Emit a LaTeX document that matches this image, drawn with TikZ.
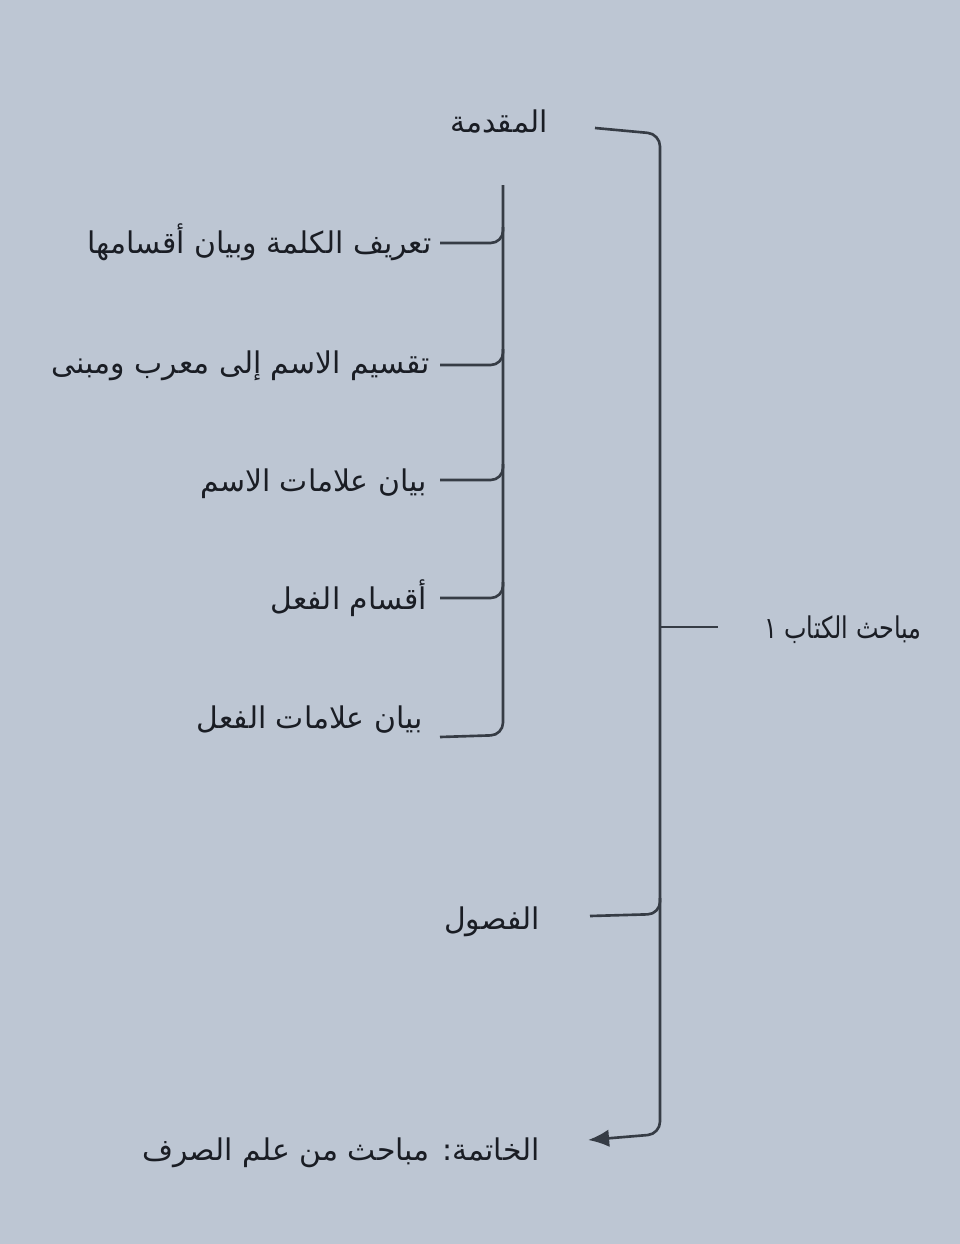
\documentclass[tikz,border=0pt]{standalone}
\usepackage{graphicx}
\usepackage{fontspec}
\usetikzlibrary{arrows.meta}
\TeXXeTstate=1
\newfontfamily\arabicfont[Script=Arabic]{DejaVu Sans}
\definecolor{paper}{HTML}{BDC6D3}
\definecolor{ink}{HTML}{1A1D24}
\definecolor{linec}{HTML}{363C45}
\begin{document}
\begin{tikzpicture}[x=0.02cm,y=-0.02cm,
  lbl/.style={font=\arabicfont\fontsize{17}{21}\selectfont, text=ink, inner sep=0pt},
  brk/.style={draw=linec, line width=1.5pt, rounded corners=7},
  arr/.style={brk, -{Latex[length=12pt,width=10pt]}}]
\fill[paper] (0,0) rectangle (960,1244);
\useasboundingbox (0,0) rectangle (960,1244);
% labels
\node[lbl, anchor=east] (muq) at (548,122) {\beginR المقدمة\endR};
\node[lbl, anchor=east] (t1) at (432,242) {\beginR تعريف الكلمة وبيان أقسامها\endR};
\node[lbl, anchor=east] (t2) at (430,366) {\beginR تقسيم الاسم إلى معرب ومبنى\endR};
\node[lbl, anchor=east] (t3) at (427,484) {\beginR بيان علامات الاسم\endR};
\node[lbl, anchor=east] (t4) at (427,598) {\beginR أقسام الفعل\endR};
\node[lbl, anchor=east] (t5) at (423,720) {\beginR بيان علامات الفعل\endR};
\node[lbl, anchor=east] (main) at (922,630) {\scalebox{0.8}[1]{\beginR مباحث الكتاب ١\endR}};
\node[lbl, anchor=east] (fus) at (540,922) {\beginR الفصول\endR};
\node[lbl, anchor=east] (kha) at (540,1153) {\beginR الخاتمة: مباحث من علم الصرف\endR};
% coordinates
\coordinate (mqEnd) at (595,128);
\coordinate (spTop) at (660,134);
\coordinate (spBot) at (660,1134);
\coordinate (khEnd) at (588,1140);
\coordinate (midL) at (660,627);
\coordinate (midR) at (718,627);
\coordinate (fusEnd) at (590,916);
\coordinate (fusJ) at (660,914);
\coordinate (fusU) at (660,898);
\coordinate (inTop) at (503,185);
\coordinate (inBot) at (503,735);
\coordinate (t5End) at (440,737);
% outer bracket
\draw[arr] (mqEnd) -- (spTop) -- (spBot) -- (khEnd);
\draw[brk] (midL) -- (midR);
\draw[brk] (fusEnd) -- (fusJ) -- (fusU);
% inner bracket
\draw[brk] (inTop) -- (inBot) -- (t5End);
\foreach \y/\n in {243/a,365/b,480/c,598/d}{
  \coordinate (L\n) at (440,\y);
  \coordinate (J\n) at (503,\y);
  \coordinate (U\n) at (503,\y-16);
  \draw[brk] (L\n) -- (J\n) -- (U\n);
}
\end{tikzpicture}
\end{document}
